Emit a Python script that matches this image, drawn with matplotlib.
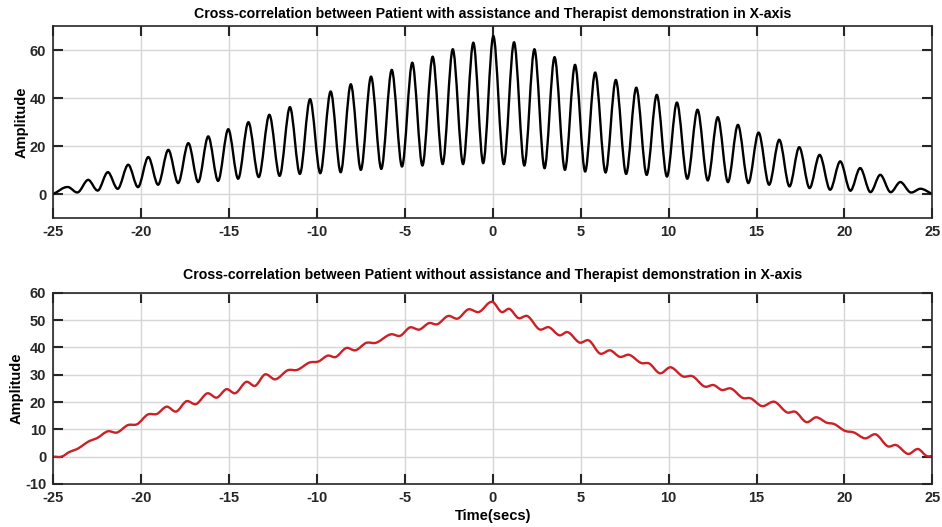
import matplotlib
matplotlib.use("Agg")
import matplotlib.pyplot as plt
import numpy as np
from matplotlib.path import Path
from matplotlib.patches import PathPatch

# key points (peaks / troughs / shoulders), time in secs
t_top = [-25.0, -24.15, -23.6, -23.02, -22.45, -21.91, -21.32, -20.74, -20.17, -19.6,
         -19.03, -18.46, -17.89, -17.32, -16.75, -16.19, -15.62, -15.05, -14.48, -13.91,
         -13.31, -12.71, -12.12, -11.54, -10.97, -10.4, -9.81, -9.22, -8.65, -8.08,
         -7.5, -6.93, -6.34, -5.75, -5.16, -4.58, -4.0, -3.42, -2.85, -2.28,
         -1.69, -1.1, -0.55, 0.03, 0.62, 1.21, 1.79, 2.37, 2.94, 3.51,
         4.1, 4.68, 5.25, 5.82, 6.41, 7.0, 7.58, 8.16, 8.75, 9.33,
         9.9, 10.47, 11.06, 11.65, 12.22, 12.8, 13.37, 13.94, 14.53, 15.12,
         15.71, 16.3, 16.87, 17.43, 18.01, 18.59, 19.18, 19.77, 20.33, 20.9,
         21.47, 22.04, 22.61, 23.18, 23.75, 24.33, 25.0]
v_top = [0.0, 2.9, 0.7, 5.9, 1.5, 9.1, 2.2, 12.2, 2.9, 15.4,
         3.9, 18.4, 4.6, 21.2, 5.0, 24.0, 5.5, 27.0, 6.4, 29.9,
         7.1, 33.0, 7.6, 36.2, 8.4, 39.5, 8.7, 42.7, 9.1, 45.7,
         10.1, 48.9, 10.5, 51.7, 11.5, 54.7, 11.9, 57.2, 12.5, 60.3,
         12.5, 63.0, 12.9, 65.8, 12.5, 63.2, 11.9, 60.3, 10.8, 57.0,
         10.1, 53.8, 9.4, 50.6, 9.0, 47.5, 8.4, 44.3, 8.0, 41.3,
         7.3, 38.1, 6.4, 35.1, 5.7, 32.0, 5.0, 28.8, 4.6, 25.6,
         3.9, 22.6, 3.2, 19.5, 2.5, 16.3, 1.8, 13.6, 1.4, 10.8,
         0.8, 8.0, 0.8, 5.0, 0.7, 2.2, 0.0]

t_bot = [-25.0, -24.53, -24.06, -23.68, -22.92, -22.54, -21.88, -21.4, -20.74, -20.26,
         -19.6, -19.12, -18.55, -18.02, -17.42, -16.9, -16.22, -15.71, -15.14, -14.67,
         -14.0, -13.53, -12.96, -12.39, -11.63, -11.16, -10.4, -9.93, -9.36, -8.98,
         -8.31, -7.84, -7.17, -6.7, -5.75, -5.28, -4.71, -4.18, -3.61, -3.19,
         -2.53, -2.01, -1.39, -0.82, 0.0, 0.51, 0.93, 1.46, 1.94, 2.69,
         3.16, 3.83, 4.21, 4.97, 5.44, 6.11, 6.68, 7.24, 7.72, 8.48,
         8.86, 9.52, 10.09, 10.85, 11.33, 12.08, 12.56, 13.03, 13.51, 14.26,
         14.64, 15.31, 16.01, 16.79, 17.17, 17.87, 18.38, 19.01, 19.39, 20.05,
         20.52, 21.19, 21.76, 22.52, 22.9, 23.65, 24.19, 24.7, 25.0]
v_bot = [0.0, 0.0, 1.8, 2.7, 5.8, 6.7, 9.3, 8.8, 11.6, 11.8,
         15.5, 15.6, 18.3, 16.5, 20.3, 19.2, 23.2, 21.6, 24.7, 23.2,
         27.4, 25.9, 30.1, 28.3, 31.7, 31.7, 34.5, 34.8, 37.0, 36.4,
         39.8, 38.9, 41.7, 41.6, 44.8, 44.2, 47.3, 46.5, 48.9, 48.4,
         51.5, 50.5, 53.9, 52.9, 56.6, 52.9, 54.1, 50.7, 51.5, 46.5,
         47.4, 44.4, 45.6, 41.7, 42.6, 37.7, 38.9, 36.5, 37.3, 34.2,
         34.2, 30.5, 32.7, 29.3, 29.5, 25.6, 26.2, 24.4, 25.0, 21.4,
         21.4, 18.5, 20.1, 16.1, 16.5, 12.6, 14.4, 12.4, 12.0, 9.4,
         8.9, 6.7, 8.2, 3.7, 4.3, 1.0, 2.8, 0.2, 0.2]

x_ticks = [-25, -20, -15, -10, -5, 0, 5, 10, 15, 20, 25]
top_yticks = [0, 20, 40, 60]
bot_yticks = [-10, 0, 10, 20, 30, 40, 50, 60]

title_top = "Cross-correlation between Patient with assistance and Therapist demonstration in X-axis"
title_bot = "Cross-correlation between Patient without assistance and Therapist demonstration in X-axis"

plt.rcParams['font.family'] = ['Liberation Sans', 'DejaVu Sans']
plt.rcParams['font.weight'] = 'bold'
plt.rcParams['axes.unicode_minus'] = False


def smooth_path(t, v):
    # cubic bezier through the key points, tangents from the neighbours
    t = np.asarray(t, float)
    v = np.asarray(v, float)
    m = np.gradient(v, t)
    verts = [(t[0], v[0])]
    codes = [Path.MOVETO]
    for i in range(len(t) - 1):
        h = (t[i + 1] - t[i]) / 3
        verts += [(t[i] + h, v[i] + m[i] * h),
                  (t[i + 1] - h, v[i + 1] - m[i + 1] * h),
                  (t[i + 1], v[i + 1])]
        codes += [Path.CURVE4] * 3
    return Path(verts, codes)


def style(ax, yticks, ylim):
    ax.set_xlim(-25, 25)
    ax.set_ylim(*ylim)
    ax.set_xticks(x_ticks)
    ax.set_yticks(yticks)
    ax.grid(True, color='#d6d6d6', lw=1)
    ax.set_axisbelow(True)
    ax.tick_params(direction='in', length=7, width=1.5, top=True, right=True,
                   colors='#262626', labelsize=10.5, pad=5)
    for s in ax.spines.values():
        s.set_color('#262626')
        s.set_linewidth(1.2)
    for lab in ax.get_xticklabels() + ax.get_yticklabels():
        lab.set_fontweight('bold')
    ax.set_ylabel('Amplitude', fontsize=10.5, fontweight='bold', labelpad=1)


fig = plt.figure(figsize=(9.42, 5.27), dpi=100)
ax1 = fig.add_axes([0.0566, 0.5863, 0.9331, 0.3643])
ax2 = fig.add_axes([0.0566, 0.0816, 0.9331, 0.3630])

ax1.add_patch(PathPatch(smooth_path(t_top, v_top), fill=False, ec='black', lw=1.7))
style(ax1, top_yticks, (-10, 70))
ax1.set_title(title_top, fontsize=10.2, fontweight='bold', pad=6)

ax2.add_patch(PathPatch(smooth_path(t_bot, v_bot), fill=False, ec='#cc2027', lw=1.7))
style(ax2, bot_yticks, (-10, 60))
ax2.set_title(title_bot, fontsize=10.2, fontweight='bold', pad=10)
ax2.set_xlabel('Time(secs)', fontsize=10.5, fontweight='bold', labelpad=3)

fig.savefig('out.png', dpi=100)
